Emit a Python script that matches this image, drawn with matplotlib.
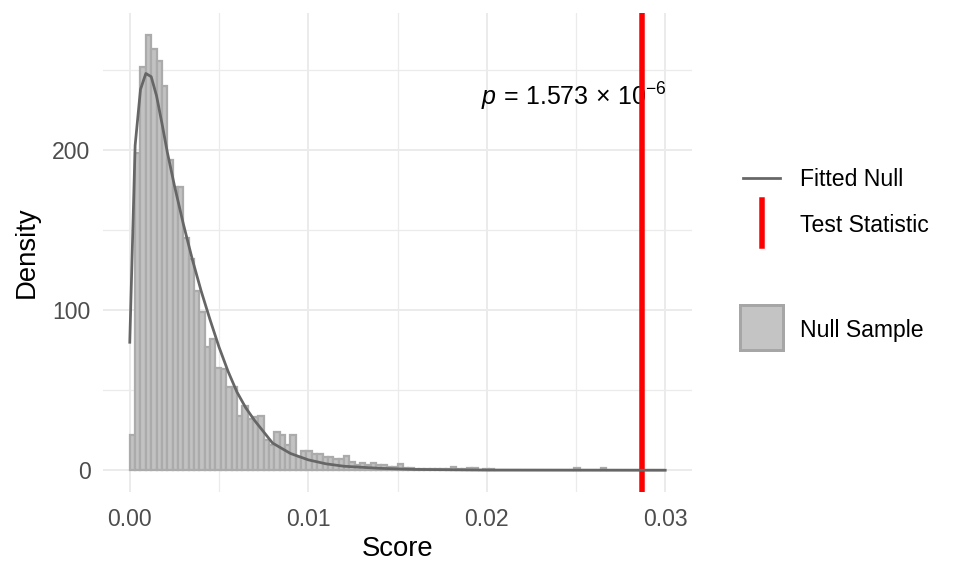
import numpy as np
import matplotlib
matplotlib.use("Agg")
from matplotlib import pyplot as plt
from matplotlib.lines import Line2D
from matplotlib.patches import Rectangle

plt.rcParams['font.family'] = ['Liberation Sans', 'DejaVu Sans']
plt.rcParams['mathtext.fontset'] = 'custom'
plt.rcParams['mathtext.rm'] = 'Liberation Sans'
plt.rcParams['mathtext.it'] = 'Liberation Sans:italic'

# histogram of the null sample: 100 bins of width 0.0003 from 0 to 0.03
bin_width = 0.0003
null_density = [22, 198, 252, 272, 263, 256, 240, 194, 177, 177,
                145, 132, 112, 99, 77, 82, 64, 63, 52, 52,
                34, 40, 32, 33, 34, 19, 16, 24, 22, 16,
                22, 8, 12, 12, 10, 10, 8, 8, 7, 7,
                9, 5, 3, 4.5, 3, 4.5, 3, 3, 2, 2,
                4, 1.3, 1.3, 0.7, 0.7, 1, 1, 1, 1, 0.5,
                2, 0.5, 0.7, 1.3, 1.3, 0.3, 0.7, 1, 0, 0,
                0, 0, 0, 0, 0, 0, 0, 0, 0, 0,
                0, 0, 0, 1.5, 0, 0, 0, 0, 1.5, 0,
                0, 0, 0, 0, 0, 0, 0, 0, 0, 0]

# fitted null density
fit_score = [0.0, 0.0003, 0.0006, 0.0009, 0.0012, 0.0015, 0.0018, 0.0021,
             0.0025, 0.003, 0.0035, 0.004, 0.0045, 0.005, 0.0055, 0.006,
             0.0065, 0.007, 0.0075, 0.008, 0.009, 0.010, 0.011, 0.012,
             0.014, 0.016, 0.020, 0.030]
fit_density = [80, 203, 238, 248, 246, 234, 217, 199,
               178, 154, 132, 112, 94, 77, 62, 49,
               39, 31, 24, 17, 10.5, 6.5, 4, 2.5,
               1.2, 0.5, 0.1, 0]

test_stat = 0.02868
p_label = r'$p\,=\,1.573\,\times\,10^{-6}$'

W, H = 960, 576
fig = plt.figure(figsize=(W / 180, H / 180), dpi=180)
ax = fig.add_axes([103 / W, 1 - 492 / H, (692 - 103) / W, (492 - 13) / H])

left_edges = np.arange(len(null_density)) * bin_width
ax.bar(left_edges, null_density, width=bin_width, align='edge',
       color='#C2C2C2', edgecolor='#ABABAB', linewidth=0.9, zorder=2)
ax.text(0.0249, 228, p_label, fontsize=10, ha='center', va='baseline', zorder=3)
ax.axvline(test_stat, color='red', linewidth=2.2, zorder=4)
ax.plot(fit_score, fit_density, color='#666666', linewidth=1.1, zorder=5)

ax.set_xlim(-0.0015, 0.0315)
ax.set_ylim(-13.6, 285.8)
ax.set_xticks([0.0, 0.01, 0.02, 0.03])
ax.set_xticklabels(['0.00', '0.01', '0.02', '0.03'])
ax.set_xticks([0.005, 0.015, 0.025], minor=True)
ax.set_yticks([0, 100, 200])
ax.set_yticks([50, 150, 250], minor=True)
ax.grid(which='major', color='#EBEBEB', linewidth=0.8, zorder=0)
ax.grid(which='minor', color='#EBEBEB', linewidth=0.5, zorder=0)
ax.set_axisbelow(True)
for s in ax.spines.values():
    s.set_visible(False)
ax.tick_params(which='both', length=0, labelsize=9.2, labelcolor='#4D4D4D')
ax.tick_params(axis='x', pad=6.4)
ax.tick_params(axis='y', pad=5)
ax.set_xlabel('Score', fontsize=11, labelpad=2.2)
ax.set_ylabel('Density', fontsize=11, labelpad=5)

# legend drawn in figure pixel positions
def fx(px):
    return px / W

def fy(py):
    return 1 - py / H

fig.add_artist(Line2D([fx(743), fx(780)], [fy(178), fy(178)], color='#666666', linewidth=1.1))
fig.add_artist(Line2D([fx(762), fx(762)], [fy(200), fy(246)], color='red', linewidth=2.2))
fig.add_artist(Rectangle((fx(740), fy(350)), fx(783) - fx(740), fy(305) - fy(350),
                         facecolor='#C4C4C4', edgecolor='#A6A6A6', linewidth=1.2))
for label, py in [('Fitted Null', 180), ('Test Statistic', 226), ('Null Sample', 330)]:
    fig.text(fx(800), fy(py), label, fontsize=9.2, ha='left', va='center')

fig.savefig('out.png', dpi=180)
